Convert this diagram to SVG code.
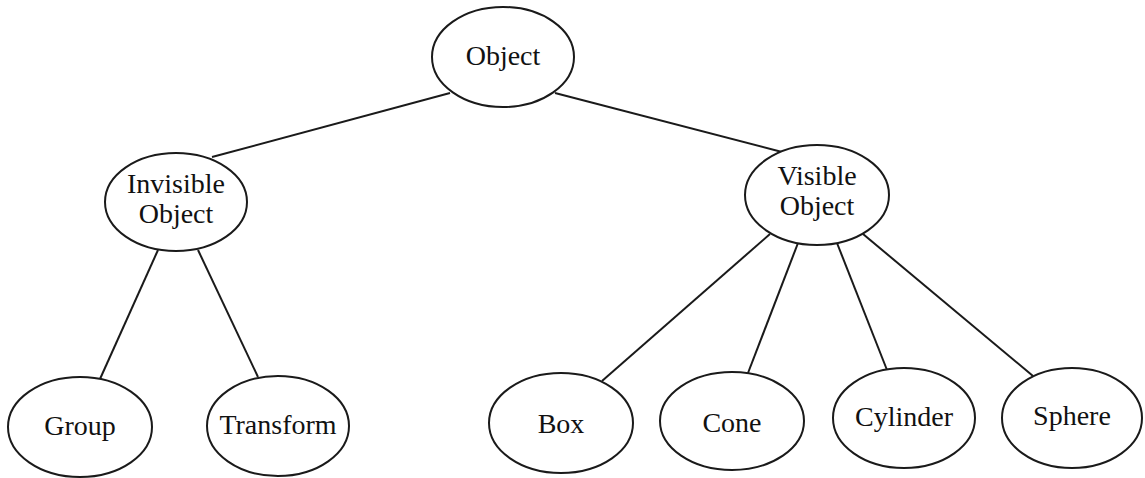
<svg xmlns="http://www.w3.org/2000/svg" width="1145" height="478" viewBox="0 0 1145 478">
<style>
.n ellipse{fill:#fff;stroke:#1a1a1a;stroke-width:2}
.n text{font-family:"Liberation Serif","Times New Roman",serif;font-size:28px;fill:#111;text-anchor:middle}
.e line{stroke:#1a1a1a;stroke-width:2}
</style>
<rect width="1145" height="478" fill="#fff"/>
<g class="e" id="connectors">
<line x1="450" y1="93" x2="212" y2="157"/>
<line x1="555" y1="93" x2="782" y2="152"/>
<line x1="158" y1="250" x2="100" y2="379"/>
<line x1="198" y1="250" x2="258" y2="377"/>
<line x1="770" y1="234" x2="602" y2="381"/>
<line x1="798" y1="243" x2="748" y2="373"/>
<line x1="837" y1="243" x2="887" y2="370"/>
<line x1="863" y1="234" x2="1033" y2="376"/>
</g>
<g class="n" id="object"><ellipse cx="503" cy="57" rx="71" ry="50"/><text x="503" y="65">Object</text></g>
<g class="n" id="invisible-object"><ellipse cx="176" cy="202" rx="71" ry="49"/><text x="176" y="193">Invisible</text><text x="176" y="223">Object</text></g>
<g class="n" id="visible-object"><ellipse cx="817" cy="195" rx="72" ry="50"/><text x="817" y="185">Visible</text><text x="817" y="215">Object</text></g>
<g class="n" id="group"><ellipse cx="80" cy="427" rx="72" ry="50"/><text x="80" y="435">Group</text></g>
<g class="n" id="transform"><ellipse cx="278" cy="426" rx="71" ry="50"/><text x="278" y="434">Transform</text></g>
<g class="n" id="box"><ellipse cx="561" cy="423" rx="72" ry="50"/><text x="561" y="433">Box</text></g>
<g class="n" id="cone"><ellipse cx="732" cy="421" rx="72" ry="49"/><text x="732" y="432">Cone</text></g>
<g class="n" id="cylinder"><ellipse cx="904" cy="418" rx="71" ry="50"/><text x="904" y="426">Cylinder</text></g>
<g class="n" id="sphere"><ellipse cx="1072" cy="418" rx="70" ry="50"/><text x="1072" y="425">Sphere</text></g>
</svg>
